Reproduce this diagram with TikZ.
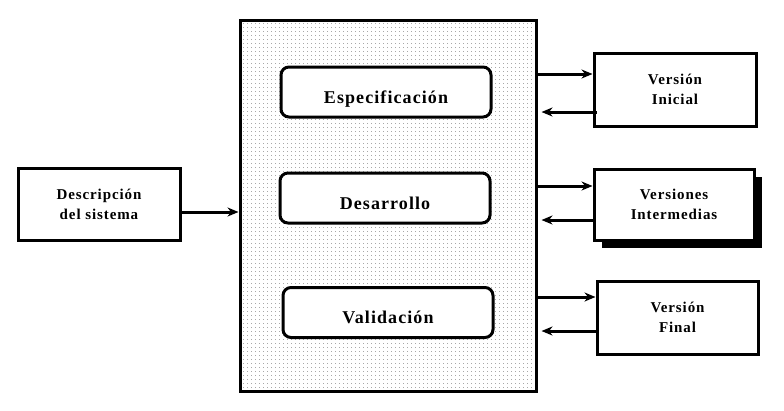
\documentclass[tikz,border=0pt]{standalone}
\usepackage{fontspec}
\setmainfont{Liberation Serif}
\newfontfamily\lblfont[LetterSpace=6]{Liberation Serif}
\usetikzlibrary{arrows.meta,patterns.meta,shadows}

\tikzset{
  box/.style={draw,line width=3pt,fill=white,align=center,
    font=\lblfont\bfseries\fontsize{15}{20}\selectfont},
  phase/.style={draw,line width=3pt,fill=white,rounded corners=8pt,
    minimum width=210pt,minimum height=50pt,text height=26pt,text depth=4pt,
    font=\lblfont\bfseries\fontsize{18}{20}\selectfont},
  arr/.style={line width=3pt,-{Stealth[length=11pt,width=9pt,inset=3.5pt]}},
}

\begin{document}
\begin{tikzpicture}[x=1pt,y=-1pt]
\useasboundingbox (0,0) rectangle (784,410);
% proceso central
\node[draw,line width=3pt,pattern={Dots[distance=4pt,radius=0.45pt]},pattern color=black!60,
  minimum width=296pt,minimum height=371pt] (proc) at (388,205.5) {};
\node[phase] (espec) at (386,92) {Especificación};
\node[phase] (desar) at (385,198) {Desarrollo};
\node[phase] (valid) at (388,312.5) {Validación};
% entrada
\node[box,minimum width=162pt,minimum height=72pt] (sys) at (99,204) {Descripción\\del sistema};
% versiones
\node[box,minimum width=162pt,minimum height=73pt] (ini) at (675,89.5) {Versión\\Inicial};
\node[box,minimum width=160pt,minimum height=71pt,
  drop shadow={shadow xshift=8pt,shadow yshift=-8pt,fill=black,opacity=1}] (inter) at (674,204.5) {Versiones\\Intermedias};
\node[box,minimum width=161pt,minimum height=73pt] (fin) at (677.5,317.5) {Versión\\Final};
\draw[arr] (sys.east |- 0,212) -- (proc.west |- 0,212);
\draw[arr] (proc.east |- 0,74) -- (ini.west |- 0,74);
\draw[arr,shorten >=4pt] ([xshift=4pt]ini.west |- 0,112) -- (proc.east |- 0,112);
\draw[arr] (proc.east |- 0,186) -- (inter.west |- 0,186);
\draw[arr,shorten >=4pt] (inter.west |- 0,220) -- (proc.east |- 0,220);
\draw[arr] (proc.east |- 0,297) -- (fin.west |- 0,297);
\draw[arr,shorten >=4pt] (fin.west |- 0,331) -- (proc.east |- 0,331);
\end{tikzpicture}
\end{document}
